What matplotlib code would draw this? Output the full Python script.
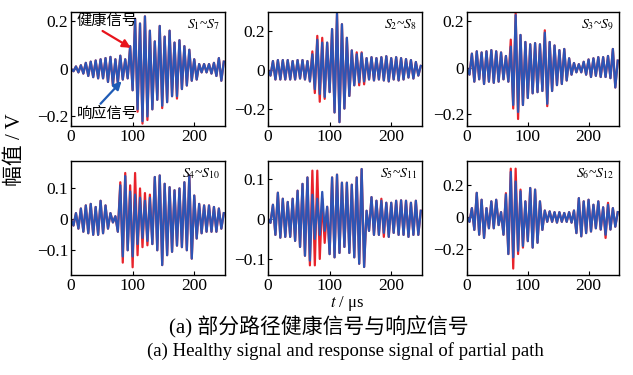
import matplotlib
matplotlib.use("Agg")
import matplotlib.pyplot as plt
import numpy as np

plt.rcParams['font.family'] = ['Liberation Serif', 'Noto Sans CJK SC']
plt.rcParams['mathtext.fontset'] = 'stix'
plt.rcParams['axes.unicode_minus'] = True

# time of each read extremum (us), one every half period
t_us = np.arange(0, 252, 4)

# response signal (blue), peak / trough values
blue_17 = [0.0, -0.01, 0.01, -0.015, 0.015, -0.02, 0.025, -0.03,
           0.03, -0.035, 0.035, -0.04, 0.04, -0.04, 0.045, -0.055,
           0.05, -0.065, 0.04, -0.06, 0.055, -0.045, 0.04, -0.04,
           0.095, -0.09, 0.21, -0.17, 0.19, -0.22, 0.22, -0.2,
           0.16, -0.17, 0.115, -0.13, 0.18, -0.155, 0.135, -0.14,
           0.16, -0.115, 0.11, -0.115, 0.12, -0.085, 0.095, -0.07,
           0.08, -0.05, 0.04, -0.045, 0.02, -0.015, 0.02, -0.015,
           0.02, -0.02, 0.025, -0.03, 0.045, -0.05, 0.03]
blue_28 = [0.0, -0.03, 0.045, -0.05, 0.05, -0.05, 0.05, -0.05,
           0.05, -0.05, 0.045, -0.05, 0.05, -0.045, 0.05, -0.05,
           0.045, -0.06, 0.08, -0.1, 0.155, -0.125, 0.14, -0.14,
           0.14, -0.115, 0.21, -0.22, 0.29, -0.27, 0.235, -0.2,
           0.165, -0.135, 0.1, -0.08, 0.08, -0.065, 0.085, -0.06,
           0.06, -0.05, 0.065, -0.055, 0.06, -0.05, 0.065, -0.055,
           0.07, -0.06, 0.06, -0.05, 0.065, -0.055, 0.06, -0.05,
           0.055, -0.04, 0.05, -0.045, 0.04, -0.03, 0.02]
blue_39 = [0.0, -0.03, 0.06, -0.06, 0.07, -0.05, 0.065, -0.07,
           0.07, -0.06, 0.075, -0.065, 0.07, -0.06, 0.065, -0.05,
           0.05, -0.06, 0.09, -0.16, 0.225, -0.19, 0.14, -0.16,
           0.11, -0.13, 0.1, -0.11, 0.105, -0.105, 0.1, -0.1,
           0.15, -0.155, 0.11, -0.1, 0.095, -0.075, 0.075, -0.07,
           0.08, -0.055, 0.04, -0.03, 0.02, -0.02, 0.015, -0.02,
           0.025, -0.03, 0.035, -0.04, 0.04, -0.035, 0.045, -0.04,
           0.045, -0.04, 0.05, -0.045, 0.08, -0.085, 0.03]
blue_410 = [0.0, -0.02, 0.02, -0.03, 0.035, -0.04, 0.045, -0.045,
            0.05, -0.05, 0.04, -0.05, 0.06, -0.045, 0.045, -0.03,
            0.02, -0.01, 0.01, -0.04, 0.11, -0.12, 0.14, -0.1,
            0.09, -0.12, 0.08, -0.08, 0.07, -0.06, 0.06, -0.07,
            0.07, -0.08, 0.137, -0.1, 0.142, -0.148, 0.115, -0.116,
            0.104, -0.105, 0.094, -0.085, 0.1, -0.09, 0.12, -0.1,
            0.142, -0.127, 0.077, -0.062, 0.05, -0.045, 0.045, -0.04,
            0.045, -0.04, 0.04, -0.04, 0.035, -0.03, 0.02]
blue_511 = [0.0, -0.01, 0.035, -0.04, 0.065, -0.047, 0.05, -0.045,
            0.042, -0.045, 0.05, -0.055, 0.07, -0.07, 0.087, -0.092,
            0.103, -0.104, 0.06, -0.05, 0.05, -0.04, 0.067, -0.03,
            0.03, -0.088, 0.103, -0.096, 0.11, -0.085, 0.09, -0.07,
            0.09, -0.085, 0.085, -0.096, 0.103, -0.112, 0.124, -0.12,
            0.02, -0.03, 0.054, -0.04, 0.045, -0.04, 0.045, -0.035,
            0.04, -0.045, 0.04, -0.035, 0.045, -0.04, 0.046, -0.04,
            0.045, -0.045, 0.04, -0.04, 0.045, -0.04, 0.02]
blue_612 = [0.0, -0.03, 0.055, -0.08, 0.15, -0.11, 0.107, -0.13,
            0.055, -0.07, 0.097, -0.07, 0.107, -0.05, 0.03, -0.11,
            0.14, -0.23, 0.28, -0.25, 0.22, -0.21, 0.16, -0.18,
            0.097, -0.15, 0.18, -0.19, 0.17, -0.16, 0.097, -0.08,
            0.04, -0.03, 0.035, -0.03, 0.03, -0.035, 0.03, -0.03,
            0.025, -0.03, 0.03, -0.035, 0.04, -0.1, 0.117, -0.12,
            0.097, -0.1, 0.107, -0.09, 0.076, -0.07, 0.097, -0.078,
            0.06, -0.11, 0.076, -0.078, 0.055, -0.06, 0.03]

# healthy signal (red): same as blue except at these times (us)
red_17 = {68: -0.07, 108: -0.18, 116: -0.23, 124: -0.215, 148: -0.165, 172: -0.125}
red_28 = {72: 0.095, 76: -0.12, 80: 0.175, 84: -0.165, 88: 0.165, 92: -0.15,
          144: 0.09, 148: -0.08, 152: 0.09, 156: -0.075}
red_39 = {72: 0.12, 76: -0.175, 80: 0.235, 84: -0.22, 128: 0.16, 132: -0.165}
red_410 = {80: 0.12, 84: -0.14, 88: 0.15, 96: 0.11, 100: -0.155, 104: 0.15,
           108: -0.116, 112: 0.1, 116: -0.09, 120: 0.085, 124: -0.084, 128: 0.08}
red_511 = {68: -0.116, 72: 0.12, 76: -0.116, 80: 0.12, 84: -0.1, 88: 0.05,
           92: -0.06, 184: 0.05, 188: -0.045}
red_612 = {64: 0.148, 72: 0.30, 76: -0.32, 80: 0.30, 84: -0.23, 88: 0.17,
           92: -0.19, 228: -0.13, 232: 0.088}

path_names = [(1, 7), (2, 8), (3, 9), (4, 10), (5, 11), (6, 12)]
blue_all = [blue_17, blue_28, blue_39, blue_410, blue_511, blue_612]
red_all = [red_17, red_28, red_39, red_410, red_511, red_612]
y_limits = [(-0.24, 0.24), (-0.29, 0.30), (-0.25, 0.24),
            (-0.18, 0.19), (-0.14, 0.145), (-0.36, 0.35)]
y_ticks = [[-0.2, 0, 0.2], [-0.2, 0, 0.2], [-0.2, 0, 0.2],
           [-0.1, 0, 0.1], [-0.1, 0, 0.1], [-0.2, 0, 0.2]]

RED = "#e8232b"
BLUE = "#2d55b5"


def make_red(blue, diffs):
    red = list(blue)
    for t, v in diffs.items():
        red[int(t // 4)] = v
    return red


def tick_text(v):
    if v == 0:
        return "0"
    return ("%.1f" % v).replace("-", "\u2212")


fig = plt.figure(figsize=(6.33, 3.75), dpi=100)

lefts = [0.1122, 0.4234, 0.7378]
bottoms = [0.664, 0.2667]
w, h = 0.2433, 0.305

axes = []
for k in range(6):
    row, col = divmod(k, 3)
    ax = fig.add_axes([lefts[col], bottoms[row], w if col < 2 else 0.240, h])
    red = make_red(blue_all[k], red_all[k])
    ax.plot(t_us, red, color=RED, lw=1.6)
    ax.plot(t_us, blue_all[k], color=BLUE, lw=1.6)
    ax.set_xlim(0, 250)
    ax.set_ylim(*y_limits[k])
    ax.set_xticks([0, 100, 200])
    ax.set_yticks(y_ticks[k])
    ax.set_yticklabels([tick_text(v) for v in y_ticks[k]])
    ax.tick_params(direction="in", length=3, width=0.8, labelsize=12.5, pad=2)
    for sp in ax.spines.values():
        sp.set_linewidth(1.0)
    a, b = path_names[k]
    ax.text(0.97, 0.95, r"$S_{%d}$~$S_{%d}$" % (a, b), transform=ax.transAxes,
            ha="right", va="top", fontsize=10)
    axes.append(ax)

# arrows for the two signals in the first panel
ax1 = axes[0]
ax1.annotate("健康信号", xy=(97, 0.088), xytext=(9, 0.2), fontsize=11,
             ha="left", va="center",
             arrowprops=dict(arrowstyle="-|>", color="#e8141c", lw=1.6,
                             mutation_scale=12, shrinkA=0, shrinkB=0,
                             relpos=(0.35, 0.0)))
ax1.annotate("响应信号", xy=(82, -0.052), xytext=(9, -0.188), fontsize=11,
             ha="left", va="center",
             arrowprops=dict(arrowstyle="-|>", color="#1f5bb5", lw=1.6,
                             mutation_scale=12, shrinkA=0, shrinkB=0,
                             relpos=(0.35, 1.0)))

fig.text(0.024, 0.6, "幅值 / V", rotation=90, ha="center", va="center",
         fontsize=15)
fig.text(0.548, 0.19, r"$t$ / μs", ha="center", va="center", fontsize=12)
fig.text(0.504, 0.128, "(a) 部分路径健康信号与响应信号", ha="center",
         va="center", fontsize=15)
fig.text(0.546, 0.064, "(a) Healthy signal and response signal of partial path",
         ha="center", va="center", fontsize=13.5)

fig.savefig("out.png", dpi=100)
